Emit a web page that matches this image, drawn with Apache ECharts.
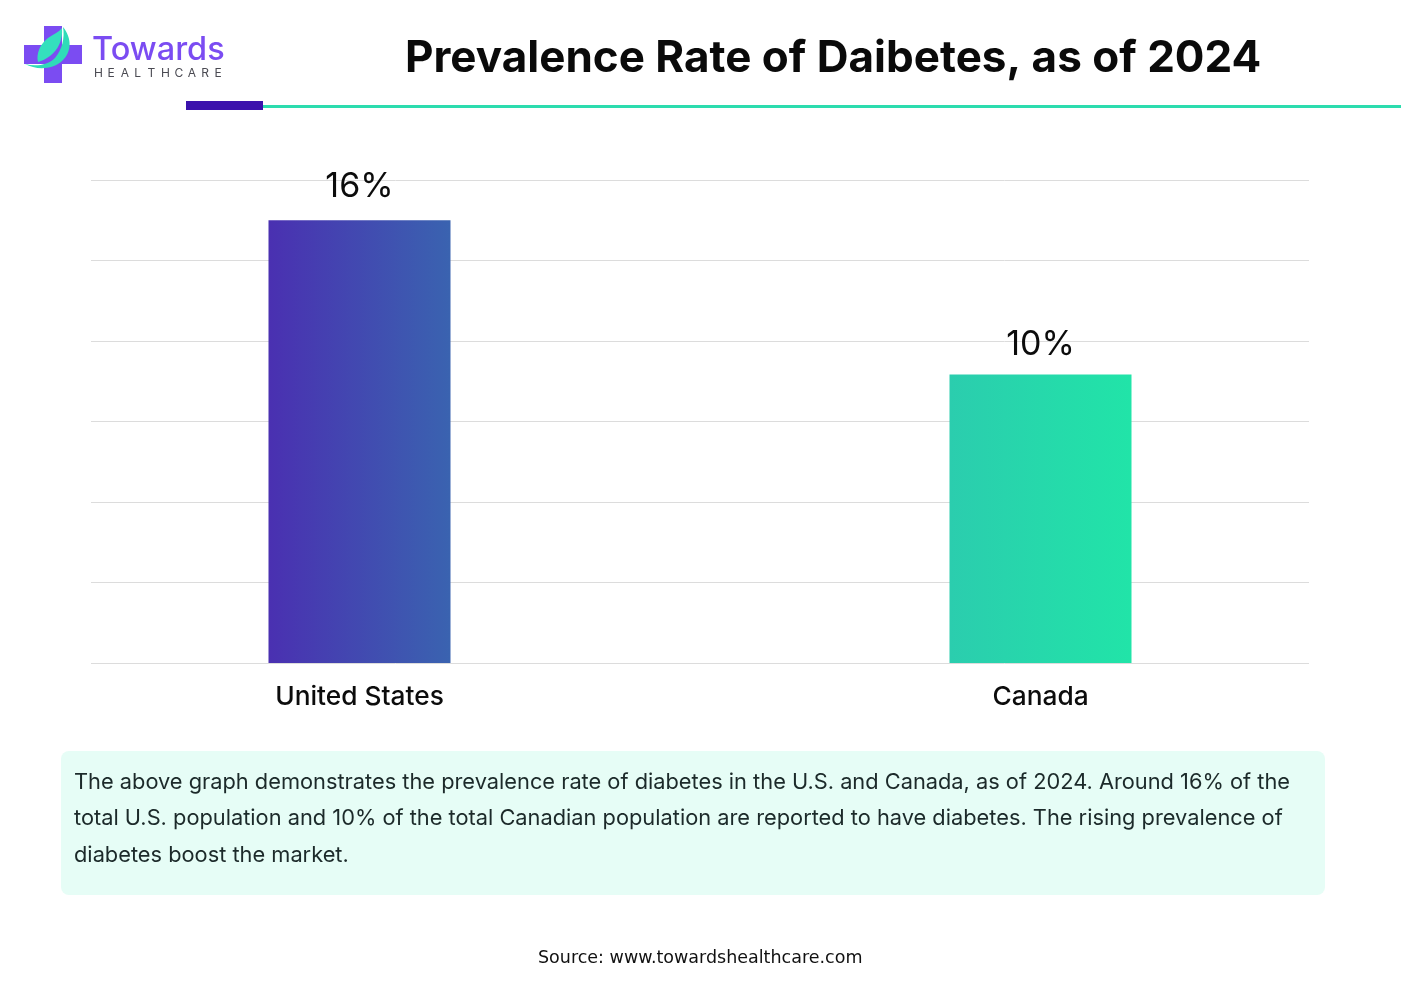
<!DOCTYPE html>
<html>
<head>
<meta charset="utf-8">
<title>Prevalence Rate of Diabetes</title>
<script src="https://cdn.jsdelivr.net/npm/echarts@6/dist/echarts.min.js"></script>
<style>
  html, body { margin: 0; padding: 0; background: #fff; }
  #chart { width: 1401px; height: 997px; }
</style>
</head>
<body>
<div id="chart"></div>
<script>
const categories = ['United States', 'Canada'];
// the bars in the picture are not drawn to their printed values, so height and label are kept apart
const barHeights = [16.5, 10.75];
const barLabels = ['16%', '10%'];
const labelGaps = [16, 13];
const axisMax = 18;
const axisStep = 3;

const titleText = 'Prevalence Rate of Daibetes, as of 2024';
const bodyLines = [
    'The above graph demonstrates the prevalence rate of diabetes in the U.S. and Canada, as of 2024. Around 16% of the',
    'total U.S. population and 10% of the total Canadian population are reported to have diabetes. The rising prevalence of',
    'diabetes boost the market.'
];
const sourceText = 'Source: www.towardshealthcare.com';
const barGradients = [['#4a30b1', '#3a63b0'], ['#2bcdae', '#21e4a8']];

const fontName = 'Inter';

const gradient = (from, to) => ({
    type: 'linear', x: 0, y: 0, x2: 1, y2: 0,
    colorStops: [{ offset: 0, color: from }, { offset: 1, color: to }]
});

// logo leaf shapes
echarts.graphic.registerShape('logoSwoosh', echarts.graphic.extendPath('M63 27 C72 38 72 52 62 61 C52 70 36 70 25 64 C36 67 48 65 55 58 C62 50 65 38 63 27 Z'));
echarts.graphic.registerShape('logoLeaf', echarts.graphic.extendPath('M62 28 C63 40 58 50 50 56 C46 59 42 61 38 62 C36 54 40 44 48 38 C54 34 59 32 62 28 Z'));

// logo letters are spaced out one by one, canvas text has no letter spacing
const healthcareLetters = 'HEALTHCARE'.split('').map((ch, i) => ({
    type: 'text',
    style: { x: 94 + i * 13.4, y: 67, text: ch, font: '400 12px ' + fontName, fill: '#4a4a52' }
}));

const chart = echarts.init(document.getElementById('chart'));
chart.setOption({
    animation: false,
    backgroundColor: '#fff',
    grid: [
        { left: 91, width: 1218, top: 180, height: 483 },   // gridlines
        { left: 19, width: 1362, top: 180, height: 483 }    // bars, wider so the bands land where the bars sit
    ],
    xAxis: [
        { gridIndex: 0, type: 'category', data: categories, show: false },
        {
            gridIndex: 1,
            type: 'category',
            data: categories,
            axisLine: { show: false },
            axisTick: { show: false },
            axisLabel: { color: '#0c0c0c', fontFamily: fontName, fontSize: 26.3, fontWeight: 500, margin: 21 }
        }
    ],
    yAxis: [
        {
            gridIndex: 0,
            type: 'value',
            min: 0,
            max: axisMax,
            interval: axisStep,
            axisLine: { show: false },
            axisTick: { show: false },
            axisLabel: { show: false },
            splitLine: { show: true, lineStyle: { color: '#dcdcdc', width: 1 } }
        },
        { gridIndex: 1, type: 'value', min: 0, max: axisMax, show: false, splitLine: { show: false } }
    ],
    series: [{
        type: 'bar',
        xAxisIndex: 1,
        yAxisIndex: 1,
        barWidth: 182,
        data: barHeights.map((v, i) => ({
            value: v,
            itemStyle: { color: gradient(barGradients[i][0], barGradients[i][1]) },
            label: { distance: labelGaps[i] }
        })),
        label: {
            show: true,
            position: 'top',
            color: '#0c0c0c',
            fontFamily: fontName,
            fontSize: 34,
            fontWeight: 400,
            formatter: p => barLabels[p.dataIndex]
        }
    }],
    graphic: { elements: [
        // logo
        { type: 'rect', shape: { x: 44, y: 26, width: 18, height: 57 }, style: { fill: '#7b4cf2' } },
        { type: 'rect', shape: { x: 24, y: 45, width: 58, height: 19 }, style: { fill: '#7b4cf2' } },
        { type: 'logoSwoosh', style: { fill: '#2fdcb8' } },
        { type: 'logoLeaf', style: { fill: '#34e0bd' } },
        { type: 'text', style: { x: 92, y: 34, text: 'Towards', font: '500 32.5px ' + fontName, fill: '#7b4cf2' } },
        ...healthcareLetters,
        // header rule
        { type: 'rect', shape: { x: 263, y: 105, width: 1138, height: 3 }, style: { fill: '#2cdcae' } },
        { type: 'rect', shape: { x: 186, y: 101, width: 77, height: 9 }, style: { fill: '#3b12ac' } },
        { type: 'text', style: { x: 405, y: 36.5, text: titleText, font: '700 44px ' + fontName, fill: '#0a0a0a' } },
        // note box
        { type: 'rect', shape: { x: 61, y: 751, width: 1264, height: 144, r: 8 }, style: { fill: '#e6fdf6' } },
        ...bodyLines.map((line, i) => ({
            type: 'text',
            style: { x: 74, y: 771 + i * 36.5, text: line, font: '400 21.8px ' + fontName, fill: '#1c2a2a' }
        })),
        { type: 'text', style: { x: 538, y: 949, text: sourceText, font: '400 17.5px "DejaVu Sans"', fill: '#111' } }
    ] }
});
</script>
</body>
</html>
